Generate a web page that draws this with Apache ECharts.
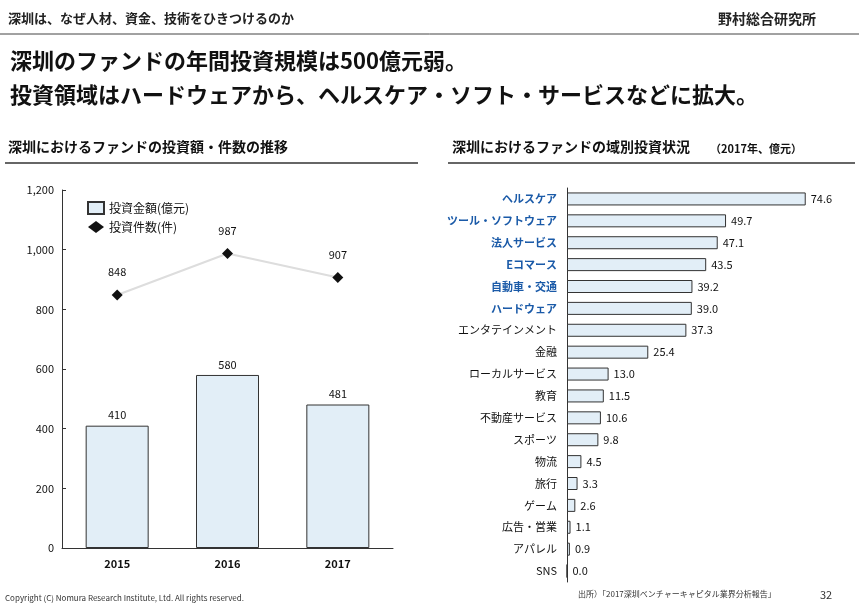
<!DOCTYPE html>
<html><head><meta charset="utf-8">
<script src="https://cdn.jsdelivr.net/npm/echarts@6/dist/echarts.min.js"></script>
<style>html,body{margin:0;padding:0;background:#fff}#c{width:859px;height:608px}</style>
</head><body><div id="c"></div>
<script>
const years=['2015','2016','2017'];
const amounts=[410,580,481];
const counts=[848,987,907];
const sectors=['ヘルスケア','ツール・ソフトウェア','法人サービス','Eコマース','自動車・交通','ハードウェア','エンタテインメント','金融','ローカルサービス','教育','不動産サービス','スポーツ','物流','旅行','ゲーム','広告・営業','アパレル','SNS'];
const sectorValues=[74.6,49.7,47.1,43.5,39.2,39.0,37.3,25.4,13.0,11.5,10.6,9.8,4.5,3.3,2.6,1.1,0.9,0.0];
const blueCount=6;
const F='"Noto Sans CJK JP","Noto Sans",sans-serif';
const chart=echarts.init(document.getElementById('c'));
chart.setOption({
animation:false,
textStyle:{fontFamily:F},
graphic:[
{type:'text',left:8,top:12,style:{text:'深圳は、なぜ人材、資金、技術をひきつけるのか',font:'bold 13px '+F,fill:'#222'}},
{type:'text',left:718,top:12,style:{text:'野村総合研究所',font:'bold 14px '+F,fill:'#222'}},
{type:'line',shape:{x1:0,y1:34,x2:859,y2:34},style:{stroke:'#444',lineWidth:1}},
{type:'text',left:10,top:50,style:{text:'深圳のファンドの年間投資規模は500億元弱。',font:'bold 22px '+F,fill:'#111'}},
{type:'text',left:10,top:84,style:{text:'投資領域はハードウェアから、ヘルスケア・ソフト・サービスなどに拡大。',font:'bold 22px '+F,fill:'#111'}},
{type:'text',left:8,top:140,style:{text:'深圳におけるファンドの投資額・件数の推移',font:'bold 14px '+F,fill:'#111'}},
{type:'line',shape:{x1:5,y1:163,x2:418,y2:163},style:{stroke:'#333',lineWidth:1.5}},
{type:'text',left:452,top:140,style:{text:'深圳におけるファンドの域別投資状況',font:'bold 14px '+F,fill:'#111'}},
{type:'text',left:710,top:143,style:{text:'（2017年、億元）',font:'bold 11px '+F,fill:'#111'}},
{type:'line',shape:{x1:448,y1:163,x2:855,y2:163},style:{stroke:'#333',lineWidth:1.5}},
{type:'text',left:5,top:594,style:{text:'Copyright (C) Nomura Research Institute, Ltd. All rights reserved.',font:'8px '+F,fill:'#333'}},
{type:'text',left:578,top:590,style:{text:'出所）「2017深圳ベンチャーキャピタル業界分析報告」',font:'8px '+F,fill:'#333'}},
{type:'text',left:820,top:589,style:{text:'32',font:'11px '+F,fill:'#333'}}
],
legend:{left:82,top:196,orient:'vertical',itemGap:6,itemWidth:16,itemHeight:12,textStyle:{fontSize:12,color:'#111'},
data:[{name:'投資金額(億元)',icon:'rect'},{name:'投資件数(件)',icon:'diamond'}]},
grid:[{left:62,right:466,top:190,bottom:60},{left:567,right:36,top:188,bottom:26}],
xAxis:[
{type:'category',data:years,gridIndex:0,axisTick:{show:false},axisLine:{lineStyle:{color:'#333'}},axisLabel:{color:'#111',fontSize:11,fontWeight:'bold',margin:10}},
{type:'value',gridIndex:1,min:0,max:80,show:false}
],
yAxis:[
{type:'value',gridIndex:0,min:0,max:1200,interval:200,axisLine:{show:true,lineStyle:{color:'#333'}},axisTick:{show:true,inside:true,length:4},splitLine:{show:false},
 axisLabel:{color:'#111',fontSize:11,formatter:v=>v.toLocaleString('en-US')}},
{type:'category',gridIndex:1,inverse:true,data:sectors.map((s,i)=>({value:s,textStyle:{color:i<blueCount?'#1a5aa8':'#111',fontWeight:i<blueCount?'bold':'normal'}})),
 axisLine:{lineStyle:{color:'#333'}},axisTick:{show:false},axisLabel:{fontSize:11,margin:10}}
],
series:[
{name:'投資金額(億元)',type:'bar',xAxisIndex:0,yAxisIndex:0,data:amounts,barWidth:63,
 itemStyle:{color:'#e2eef7',borderColor:'#333',borderWidth:1},
 label:{show:true,position:'top',color:'#111',fontSize:11}},
{name:'投資件数(件)',type:'line',xAxisIndex:0,yAxisIndex:0,data:counts,symbol:'diamond',symbolSize:11,
 lineStyle:{color:'#ddd',width:2},itemStyle:{color:'#111'},
 label:{show:true,position:'top',distance:12,color:'#111',fontSize:11}},
{type:'bar',xAxisIndex:1,yAxisIndex:1,data:sectorValues,barWidth:13,
 itemStyle:{color:'#e2eef7',borderColor:'#333',borderWidth:1},
 label:{show:true,position:'right',color:'#111',fontSize:11,formatter:p=>p.value.toFixed(1)}}
]
});
</script></body></html>
